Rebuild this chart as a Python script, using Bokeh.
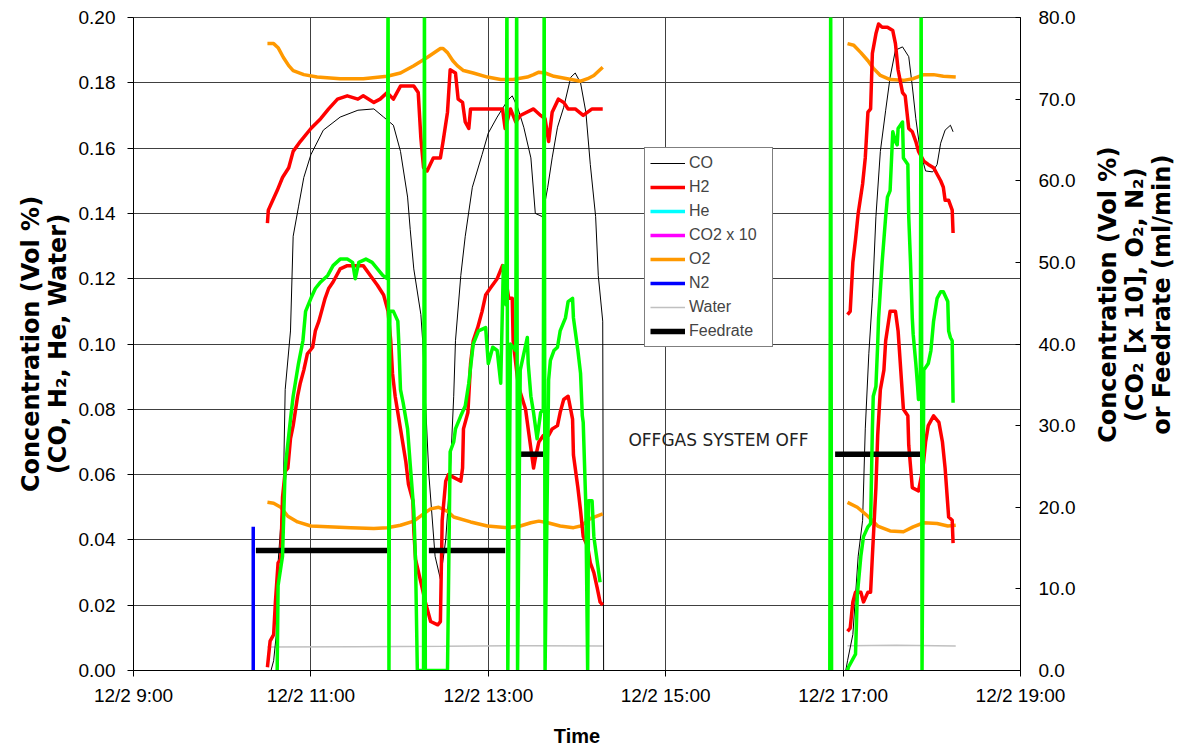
import math
import numpy as np
from bokeh.plotting import figure
from bokeh.layouts import row
from bokeh.core.properties import value
from bokeh.models import (Range1d, LinearAxis, FixedTicker, NumeralTickFormatter,
                          Legend, LegendItem, Label, ColumnDataSource)
from bokeh.embed import file_html
from bokeh.resources import INLINE

# ---------------- data (time in hours of 12/2) ----------------
x_ticks = [9, 11, 13, 15, 17, 19]
x_tick_labels = ["12/2 9:00", "12/2 11:00", "12/2 13:00", "12/2 15:00", "12/2 17:00", "12/2 19:00"]
left_ticks = [0.00, 0.02, 0.04, 0.06, 0.08, 0.10, 0.12, 0.14, 0.16, 0.18, 0.20]
right_ticks = [0, 10, 20, 30, 40, 50, 60, 70, 80]

# CO (left axis)
co_time_a = [10.55, 10.58, 10.61, 10.63, 10.69, 10.71, 10.77, 10.80, 10.86, 10.92,
             11.00, 11.14, 11.33, 11.53, 11.71, 11.82, 11.93, 12.01, 12.09, 12.12,
             12.16, 12.24, 12.26, 12.33, 12.40, 12.46, 12.52, 12.57, 12.61, 12.63,
             12.69, 12.74, 12.82, 12.93, 13.00, 13.10, 13.22, 13.27, 13.33, 13.40,
             13.48, 13.53, 13.61, 13.67, 13.72, 13.78, 13.85, 13.93, 13.98, 14.04,
             14.10, 14.15, 14.21, 14.24, 14.29, 14.30]
co_vals_a = [0.0, 0.003, 0.011, 0.033, 0.056, 0.086, 0.104, 0.133, 0.142, 0.151,
             0.158, 0.1655, 0.1695, 0.1716, 0.172, 0.1695, 0.167, 0.159, 0.145, 0.135,
             0.123, 0.109, 0.101, 0.060, 0.035, 0.028, 0.040, 0.060, 0.084, 0.101,
             0.121, 0.133, 0.148, 0.158, 0.1646, 0.1695, 0.1747, 0.176, 0.1725, 0.1664,
             0.157, 0.140, 0.139, 0.148, 0.157, 0.1664, 0.1725, 0.1817, 0.183, 0.180,
             0.171, 0.155, 0.139, 0.121, 0.107, 0.0]
co_time_b = [17.03, 17.05, 17.11, 17.17, 17.22, 17.25, 17.29, 17.33, 17.37, 17.42,
             17.48, 17.53, 17.59, 17.67, 17.74, 17.78, 17.82, 17.87, 17.93, 18.01,
             18.06, 18.10, 18.15, 18.21, 18.24]
co_vals_b = [0.0, 0.003, 0.011, 0.035, 0.046, 0.074, 0.097, 0.114, 0.139, 0.159,
             0.1716, 0.1817, 0.190, 0.191, 0.188, 0.179, 0.169, 0.159, 0.153, 0.1527,
             0.155, 0.1615, 0.1655, 0.167, 0.165]

# H2 (left axis, lower red trace)
h2_time_a = [10.51, 10.54, 10.58, 10.60, 10.63, 10.66, 10.68, 10.71, 10.74, 10.77,
             10.80, 10.85, 10.88, 10.92, 10.96, 11.02, 11.05, 11.09, 11.13, 11.16,
             11.20, 11.25, 11.33, 11.41, 11.59, 11.67, 11.75, 11.82, 11.87, 11.90,
             11.92, 11.95, 12.01, 12.07, 12.10, 12.15, 12.16, 12.18, 12.24, 12.29,
             12.35, 12.43, 12.46, 12.48, 12.52, 12.55, 12.69, 12.71, 12.72, 12.77,
             12.80, 12.83, 12.88, 12.93, 12.97, 13.02, 13.10, 13.16, 13.19, 13.23,
             13.27, 13.28, 13.34, 13.42, 13.45, 13.48, 13.51, 13.53, 13.57, 13.62,
             13.68, 13.72, 13.78, 13.81, 13.85, 13.90, 13.95, 13.96, 14.01, 14.04,
             14.07, 14.12, 14.15, 14.19, 14.23, 14.26, 14.29]
h2_vals_a = [0.001, 0.009, 0.011, 0.021, 0.033, 0.034, 0.053, 0.061, 0.062, 0.071,
             0.075, 0.084, 0.088, 0.092, 0.097, 0.099, 0.104, 0.107, 0.111, 0.114,
             0.117, 0.119, 0.123, 0.124, 0.124, 0.121, 0.118, 0.115, 0.110, 0.101,
             0.091, 0.084, 0.074, 0.064, 0.057, 0.052, 0.043, 0.034, 0.027, 0.021,
             0.015, 0.014, 0.015, 0.046, 0.058, 0.060, 0.058, 0.062, 0.074, 0.079,
             0.094, 0.101, 0.105, 0.110, 0.115, 0.117, 0.120, 0.124, 0.121, 0.114,
             0.114, 0.101, 0.087, 0.080, 0.074, 0.068, 0.062, 0.065, 0.070, 0.072,
             0.072, 0.074, 0.075, 0.079, 0.083, 0.084, 0.077, 0.066, 0.056, 0.049,
             0.041, 0.038, 0.033, 0.030, 0.025, 0.021, 0.020]
h2_time_b = [17.05, 17.08, 17.11, 17.14, 17.20, 17.23, 17.28, 17.31, 17.33, 17.37,
             17.39, 17.42, 17.46, 17.48, 17.53, 17.59, 17.62, 17.65, 17.68, 17.73,
             17.74, 17.78, 17.85, 17.90, 17.93, 17.96, 18.02, 18.08, 18.12, 18.15,
             18.19, 18.23, 18.24]
h2_vals_b = [0.012, 0.013, 0.021, 0.024, 0.024, 0.021, 0.024, 0.024, 0.035, 0.056,
             0.072, 0.086, 0.092, 0.101, 0.110, 0.110, 0.104, 0.092, 0.080, 0.078,
             0.069, 0.056, 0.055, 0.062, 0.070, 0.075, 0.078, 0.076, 0.070, 0.062,
             0.047, 0.046, 0.039]

# upper red trace (left axis units)
red2_time_a = [10.51, 10.52, 10.57, 10.62, 10.68, 10.75, 10.80, 10.88, 11.00, 11.11,
               11.20, 11.30, 11.41, 11.53, 11.59, 11.71, 11.78, 11.86, 11.93, 12.01,
               12.16, 12.21, 12.24, 12.27, 12.31, 12.38, 12.46, 12.49, 12.54, 12.57,
               12.63, 12.66, 12.71, 12.74, 12.78, 12.80, 12.99, 13.16, 13.19, 13.25,
               13.31, 13.36, 13.51, 13.59, 13.64, 13.68, 13.72, 13.79, 13.85, 13.90,
               13.98, 14.07, 14.17, 14.29]
red2_vals_a = [0.137, 0.141, 0.144, 0.147, 0.151, 0.154, 0.159, 0.162, 0.166, 0.169,
               0.172, 0.175, 0.176, 0.175, 0.176, 0.174, 0.175, 0.177, 0.175, 0.179,
               0.179, 0.177, 0.163, 0.154, 0.153, 0.157, 0.157, 0.162, 0.171, 0.184,
               0.183, 0.175, 0.174, 0.168, 0.166, 0.172, 0.172, 0.172, 0.166, 0.172,
               0.168, 0.170, 0.172, 0.170, 0.169, 0.162, 0.171, 0.175, 0.174, 0.172,
               0.172, 0.170, 0.172, 0.172]
red2_time_b = [17.05, 17.08, 17.11, 17.14, 17.17, 17.22, 17.25, 17.28, 17.31, 17.33,
               17.37, 17.40, 17.44, 17.50, 17.56, 17.59, 17.62, 17.67, 17.70, 17.74,
               17.78, 17.82, 17.85, 17.91, 17.96, 18.02, 18.06, 18.10, 18.13, 18.15,
               18.19, 18.23, 18.24]
red2_vals_b = [0.109, 0.110, 0.125, 0.132, 0.140, 0.149, 0.157, 0.171, 0.172, 0.189,
               0.195, 0.198, 0.197, 0.197, 0.196, 0.192, 0.184, 0.177, 0.176, 0.166,
               0.165, 0.162, 0.159, 0.156, 0.155, 0.154, 0.152, 0.150, 0.148, 0.144,
               0.144, 0.141, 0.134]

# green trace (left axis units)
green_time_a = [10.62, 10.63, 10.68, 10.71, 10.77, 10.80, 10.86, 10.91, 10.94, 11.00,
                11.05, 11.11, 11.19, 11.25, 11.33, 11.41, 11.47, 11.50, 11.54, 11.62,
                11.69, 11.75, 11.81, 11.86, 11.87, 11.88, 11.89, 11.93, 11.98, 11.99,
                12.01, 12.04, 12.09, 12.12, 12.16, 12.18, 12.20, 12.27, 12.28, 12.29,
                12.54, 12.57, 12.61, 12.63, 12.69, 12.74, 12.78, 12.83, 12.89, 12.97,
                13.00, 13.05, 13.10, 13.14, 13.17, 13.20, 13.21, 13.22, 13.25, 13.31,
                13.32, 13.33, 13.36, 13.44, 13.45, 13.48, 13.51, 13.55, 13.59, 13.62,
                13.63, 13.64, 13.68, 13.70, 13.74, 13.78, 13.81, 13.87, 13.90, 13.95,
                13.96, 13.98, 14.01, 14.04, 14.06, 14.07, 14.10, 14.12, 14.13, 14.17,
                14.19, 14.23, 14.26]
green_vals_a = [0.0, 0.026, 0.035, 0.062, 0.077, 0.084, 0.094, 0.101, 0.110, 0.114,
                0.117, 0.119, 0.121, 0.124, 0.126, 0.126, 0.125, 0.120, 0.125, 0.126,
                0.125, 0.123, 0.121, 0.120, 0.210, 0.0, 0.110, 0.110, 0.107, 0.101,
                0.086, 0.082, 0.074, 0.063, 0.049, 0.033, 0.0, 0.0, 0.210, 0.0,
                0.0, 0.067, 0.070, 0.074, 0.078, 0.081, 0.088, 0.100, 0.104, 0.105,
                0.094, 0.099, 0.098, 0.088, 0.124, 0.112, 0.210, 0.0, 0.100, 0.098,
                0.210, 0.0, 0.092, 0.102, 0.094, 0.084, 0.079, 0.071, 0.079, 0.080,
                0.210, 0.0, 0.089, 0.095, 0.098, 0.099, 0.104, 0.108, 0.113, 0.114,
                0.108, 0.104, 0.098, 0.091, 0.078, 0.076, 0.050, 0.0, 0.052, 0.052,
                0.041, 0.033, 0.027]
green_time_b = [16.85, 16.86, 16.87]
green_vals_b = [0.0, 0.210, 0.0]
green_time_c = [17.05, 17.06, 17.14, 17.16, 17.20, 17.23, 17.28, 17.31, 17.33, 17.34,
                17.37, 17.39, 17.40, 17.44, 17.48, 17.50, 17.53, 17.56, 17.59, 17.61,
                17.62, 17.67, 17.68, 17.73, 17.74, 17.76, 17.78, 17.79, 17.82, 17.84,
                17.85, 17.87, 17.88, 17.89, 17.91, 17.96, 17.99, 18.02, 18.06, 18.10,
                18.13, 18.18, 18.19, 18.21, 18.23, 18.24]
green_vals_c = [0.0, 0.001, 0.005, 0.023, 0.035, 0.041, 0.044, 0.045, 0.074, 0.084,
                0.087, 0.100, 0.108, 0.125, 0.139, 0.145, 0.147, 0.165, 0.162, 0.161,
                0.166, 0.168, 0.157, 0.155, 0.139, 0.125, 0.108, 0.103, 0.094, 0.087,
                0.083, 0.085, 0.210, 0.0, 0.092, 0.094, 0.098, 0.107, 0.114, 0.116,
                0.116, 0.113, 0.104, 0.102, 0.101, 0.082]

# O2 (right axis, lower orange) and upper orange trace (right axis)
o2_time_a = [10.51, 10.58, 10.66, 10.74, 10.85, 11.00, 11.19, 11.45, 11.71, 11.86,
             12.01, 12.16, 12.27, 12.35, 12.44, 12.54, 12.61, 12.80, 12.99, 13.22,
             13.36, 13.48, 13.57, 13.67, 13.81, 13.96, 14.04, 14.15, 14.29]
o2_vals_a = [20.6, 20.5, 20.0, 18.9, 18.2, 17.7, 17.6, 17.5, 17.4, 17.5,
             17.8, 18.3, 19.2, 19.8, 20.0, 19.5, 18.8, 18.2, 17.7, 17.5,
             17.7, 18.1, 18.3, 18.1, 17.7, 17.5, 17.7, 18.6, 19.2]
o2_time_b = [17.05, 17.16, 17.28, 17.39, 17.53, 17.68, 17.79, 17.91, 18.06, 18.18, 18.27]
o2_vals_b = [20.6, 20.0, 18.9, 17.7, 17.1, 17.0, 17.6, 18.1, 18.0, 17.7, 17.8]

orange2_time_a = [10.51, 10.58, 10.63, 10.69, 10.75, 10.80, 10.92, 11.07, 11.33, 11.59,
                  11.86, 12.01, 12.16, 12.31, 12.46, 12.49, 12.54, 12.60, 12.65, 12.72,
                  12.83, 12.99, 13.14, 13.28, 13.44, 13.51, 13.57, 13.64, 13.74, 13.89,
                  14.04, 14.12, 14.19, 14.29]
orange2_vals_a = [76.8, 76.8, 76.3, 75.1, 74.1, 73.5, 73.0, 72.7, 72.5, 72.5,
                  72.8, 73.2, 74.1, 75.1, 76.2, 76.2, 75.7, 74.7, 74.1, 73.5,
                  73.2, 72.7, 72.4, 72.4, 72.7, 73.0, 73.3, 73.2, 72.8, 72.5,
                  72.2, 72.5, 72.9, 73.9]
orange2_time_b = [17.05, 17.12, 17.20, 17.28, 17.34, 17.42, 17.53, 17.68, 17.79, 17.91,
                  18.02, 18.13, 18.27]
orange2_vals_b = [76.8, 76.6, 75.7, 74.7, 73.8, 72.9, 72.4, 72.3, 72.5, 73.0,
                  73.0, 72.8, 72.7]

# N2 (right axis)
n2_time = [10.35, 10.35]
n2_vals = [0.0, 17.6]

# He and CO2 x 10: no visible data
he_time, he_vals = [np.nan], [np.nan]
co2_time, co2_vals = [np.nan], [np.nan]

# Water (left axis)
water_time_a = [10.51, 11.50, 12.50, 13.50, 14.29]
water_vals_a = [0.0072, 0.0073, 0.0074, 0.0076, 0.0075]
water_time_b = [17.05, 17.60, 18.27]
water_vals_b = [0.0076, 0.0077, 0.0075]

# Feedrate (right axis): start/end of each constant period
feed_start = [10.38, 12.33, 13.36, 16.91]
feed_end = [11.86, 13.19, 13.62, 17.92]
feed_vals = [14.7, 14.7, 26.5, 26.5]

note_text = "OFFGAS SYSTEM OFF"
left_title = "Concentration (Vol %)\n(CO, H\u2082, He, Water)"
right_title_lines = ["Concentration (Vol %)", "(CO\u2082 [x 10], O\u2082, N\u2082)",
                     "or Feedrate (ml/min)"]


def joined(*segs):
    xs, ys = [], []
    for i, (t, v) in enumerate(segs):
        if i:
            xs.append(np.nan)
            ys.append(np.nan)
        xs += list(t)
        ys += list(v)
    return np.array(xs, dtype=float), np.array(ys, dtype=float)


TICK_FONT = "Liberation Sans"
TITLE_FONT = "DejaVu Sans"
H = 749
MAIN_W = 1092
SIDE_W = 98

p = figure(width=MAIN_W, height=H, x_range=Range1d(9, 19), y_range=Range1d(0, 0.2),
           output_backend="svg", toolbar_location=None,
           min_border_left=133, min_border_right=72, min_border_top=17,
           min_border_bottom=77)
p.extra_y_ranges = {"right": Range1d(0, 80)}
p.background_fill_color = "white"
p.border_fill_color = "white"
p.outline_line_color = "#404040"

# grids
p.xgrid.ticker = FixedTicker(ticks=x_ticks)
p.ygrid.ticker = FixedTicker(ticks=left_ticks)
for g in (p.xgrid, p.ygrid):
    g.grid_line_color = "#404040"
    g.grid_line_width = 1

# x axis
xa = p.xaxis[0]
xa.ticker = FixedTicker(ticks=x_ticks)
xa.major_label_overrides = {t: lab for t, lab in zip(x_ticks, x_tick_labels)}
xa.axis_label = "Time"
xa.axis_label_standoff = 16
xa.major_label_standoff = 8

# left axis
ya = p.yaxis[0]
ya.ticker = FixedTicker(ticks=left_ticks)
ya.formatter = NumeralTickFormatter(format="0.00")
ya.axis_label = left_title
ya.axis_label_standoff = 4
ya.major_label_standoff = 12

# right axis
ra = LinearAxis(y_range_name="right", ticker=FixedTicker(ticks=right_ticks),
                formatter=NumeralTickFormatter(format="0.0"))
ra.major_label_standoff = 18
ra.major_tick_in = 5
ra.major_tick_out = 0
p.add_layout(ra, "right")

for ax in (xa, ya):
    ax.major_tick_out = 6
    ax.major_tick_in = 0
for ax in (xa, ya, ra):
    ax.minor_tick_line_color = None
    ax.axis_line_color = "black"
    ax.major_tick_line_color = "black"
    ax.major_label_text_font = TICK_FONT
    ax.major_label_text_font_size = "19px"
    ax.major_label_text_color = "black"
    ax.axis_label_text_font_style = "bold"
    ax.axis_label_text_color = "black"
xa.axis_label_text_font = "Liberation Sans"
xa.axis_label_text_font_size = "20px"
ya.axis_label_text_font = TITLE_FONT
ya.axis_label_text_font_size = "24px"
ya.axis_label_text_line_height = 0.96

# ---------------- series ----------------
wx, wy = joined((water_time_a, water_vals_a), (water_time_b, water_vals_b))
r_water = p.line(wx, wy, line_color="#c0c0c0", line_width=1.5)

cx, cy = joined((co_time_a, co_vals_a), (co_time_b, co_vals_b))
r_co = p.line(cx, cy, line_color="black", line_width=1)

ox, oy = joined((orange2_time_a, orange2_vals_a), (orange2_time_b, orange2_vals_b))
p.line(ox, oy, line_color="#ff9900", line_width=3.5, line_join="round", y_range_name="right")
o2x, o2y = joined((o2_time_a, o2_vals_a), (o2_time_b, o2_vals_b))
r_o2 = p.line(o2x, o2y, line_color="#ff9900", line_width=3.5, line_join="round",
              y_range_name="right")

rx, ry = joined((red2_time_a, red2_vals_a), (red2_time_b, red2_vals_b))
p.line(rx, ry, line_color="#ff0000", line_width=3.5, line_join="round")
hx, hy = joined((h2_time_a, h2_vals_a), (h2_time_b, h2_vals_b))
r_h2 = p.line(hx, hy, line_color="#ff0000", line_width=3.5, line_join="round")

r_he = p.line(np.array(he_time, dtype=float), np.array(he_vals, dtype=float),
              line_color="#00ffff", line_width=3.5)
r_co2 = p.line(np.array(co2_time, dtype=float), np.array(co2_vals, dtype=float),
               line_color="#ff00ff", line_width=3.5)

feed_src = ColumnDataSource(dict(x0=feed_start, x1=feed_end, y=feed_vals))
r_feed = p.segment(x0="x0", y0="y", x1="x1", y1="y", source=feed_src,
                   line_color="black", line_width=5.5, y_range_name="right")

r_n2 = p.line(n2_time, n2_vals, line_color="#0000ff", line_width=3.5, y_range_name="right")

gx, gy = joined((green_time_a, green_vals_a), (green_time_b, green_vals_b),
                (green_time_c, green_vals_c))
p.line(gx, gy, line_color="#00ff00", line_width=3.5, line_join="round")

# annotation text
p.add_layout(Label(x=14.58, y=0.0705, text=note_text, text_baseline="middle",
                   text_font="DejaVu Sans", text_font_size="17px",
                   text_color="#222222"))

# legend
legend = Legend(items=[
    LegendItem(label="CO", renderers=[r_co]),
    LegendItem(label="H2", renderers=[r_h2]),
    LegendItem(label="He", renderers=[r_he]),
    LegendItem(label="CO2 x 10", renderers=[r_co2]),
    LegendItem(label="O2", renderers=[r_o2]),
    LegendItem(label="N2", renderers=[r_n2]),
    LegendItem(label="Water", renderers=[r_water]),
    LegendItem(label="Feedrate", renderers=[r_feed]),
], location=(511, 323))
legend.border_line_color = "black"
legend.border_line_width = 1
legend.background_fill_color = "white"
legend.background_fill_alpha = 1.0
legend.label_text_font = "Liberation Sans"
legend.label_text_font_size = "16px"
legend.glyph_width = 35
legend.glyph_height = 20
legend.label_height = 20
legend.label_width = 78
legend.spacing = 4
legend.padding = 5
legend.margin = 0
legend.label_standoff = 4
p.add_layout(legend)

# ---------------- right-hand title panel (pixel coordinates) ----------------
side = figure(width=SIDE_W, height=H, x_range=Range1d(0, SIDE_W), y_range=Range1d(0, H),
              output_backend="svg", toolbar_location=None,
              x_axis_type=None, y_axis_type=None, min_border=0)
side.outline_line_color = None
side.background_fill_color = "white"
side.border_fill_color = "white"
side.xgrid.visible = False
side.ygrid.visible = False
title_src = ColumnDataSource(dict(x=[15, 42, 69], y=[H - 318] * 3, text=right_title_lines))
side.text(x="x", y="y", text="text", source=title_src, angle=math.pi / 2,
          text_align="center", text_baseline="middle",
          text_font=value(TITLE_FONT), text_font_style="bold",
          text_font_size=value("24px"), text_color="black")

layout = row(p, side)
open("out.html", "w").write(file_html(layout, INLINE))
